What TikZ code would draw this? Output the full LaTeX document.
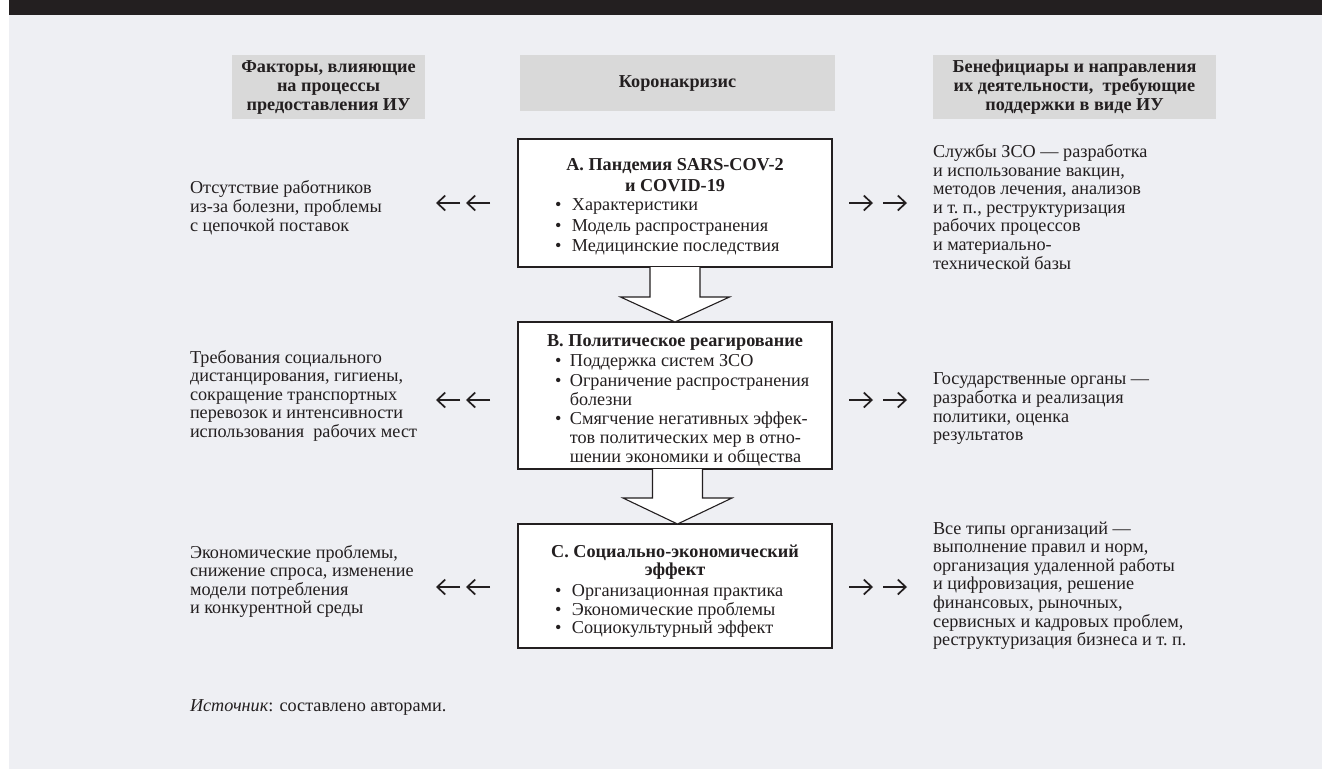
\documentclass[tikz,border=0pt]{standalone}
\usepackage{fontspec}
\setmainfont{Liberation Serif}
\usetikzlibrary{arrows.meta,calc}
\definecolor{bg}{HTML}{EEEFF3}
\definecolor{hdr}{HTML}{D9D9D9}
\definecolor{ink}{HTML}{231F20}
\begin{document}
\begin{tikzpicture}[x=1pt,y=-1pt,
  every node/.style={inner sep=0pt, outer sep=0pt, text=ink},
  body/.style={font=\fontsize{18.2}{18.6}\selectfont, align=left, anchor=north west},
  hdrbox/.style={fill=hdr, font=\bfseries\fontsize{18.2}{19}\selectfont, align=center},
  mainbox/.style={draw=ink, fill=white, line width=1.1pt, minimum width=314pt},
  btitle/.style={font=\bfseries\fontsize{18.2}{20}\selectfont, align=center, anchor=north},
  blist/.style={font=\fontsize{18.2}{18.6}\selectfont, anchor=north west},
  smallarr/.style={draw=ink, line width=1.7pt, -{Straight Barb[length=8pt,width=15pt]}},
  blockarr/.style={draw=ink, fill=white, line width=1.1pt, line join=miter}
]
\useasboundingbox (0,0) rectangle (1322,769);
\fill[white] (0,0) rectangle (1322,769);
\fill[bg] (9,0) rectangle (1322,769);
\fill[ink] (9,0) rectangle (1322,15);

% header boxes
\node[hdrbox, minimum width=193pt, minimum height=64pt] (h1) at (328.5,87)
  {Факторы, влияющие\\на процессы\\предоставления ИУ};
\node[hdrbox, minimum width=315pt, minimum height=56pt] (h2) at (677.5,83)
  {Коронакризис};
\node[hdrbox, minimum width=283pt, minimum height=64pt] (h3) at (1074.5,87)
  {Бенефициары и направления\\их деятельности,~ требующие\\поддержки в виде ИУ};

% main boxes
\node[mainbox, minimum height=128pt] (A) at (675,203) {};
\node[mainbox, minimum height=147pt] (B) at (675,395.5) {};
\node[mainbox, minimum height=124pt] (C) at (675,586) {};

% block arrows
\draw[blockarr] ($(A.south)+(-25,0)$) -- ($(A.south)+(-25,30)$) -- ($(A.south)+(-54.5,30)$)
  -- (B.north) -- ($(A.south)+(54.5,30)$) -- ($(A.south)+(25,30)$) -- ($(A.south)+(25,0)$);
\draw[blockarr] ($(B.south)+(-22.5,0)$) -- ($(B.south)+(-22.5,29)$) -- ($(B.south)+(-52,29)$)
  -- ($(C.north)+(2.5,0)$) -- ($(B.south)+(57,29)$) -- ($(B.south)+(27.5,29)$) -- ($(B.south)+(27.5,0)$);

% box texts
\node[btitle] (At) at (675,156) {\strut А. Пандемия SARS-COV-2\\[1.4pt]и COVID-19};
\node[blist] (Al) at (555,196.4) {\renewcommand\arraystretch{1.1}\begin{tabular}{@{}l@{\hspace{10.5pt}}l@{}}
\textbullet & Характеристики\\
\textbullet & Модель распространения\\
\textbullet & Медицинские последствия
\end{tabular}};

\node[btitle] (Bt) at (675,332) {\strut В. Политическое реагирование};
\node[blist] (Bl) at (555,353.7) {\begin{tabular}{@{}l@{\hspace{8.5pt}}l@{}}
\textbullet & Поддержка систем ЗСО\\[1.2pt]
\textbullet & Ограничение распространения\\
 & болезни\\[1.2pt]
\textbullet & Смягчение негативных эффек-\\
 & тов политических мер в отно-\\
 & шении экономики и общества
\end{tabular}};

\node[btitle] (Ct) at (675,543) {\strut С. Социально-экономический\\[-1.6pt]эффект};
\node[blist] (Cl) at (555,583.7) {\begin{tabular}{@{}l@{\hspace{10.5pt}}l@{}}
\textbullet & Организационная практика\\
\textbullet & Экономические проблемы\\
\textbullet & Социокультурный эффект
\end{tabular}};

% left texts
\node[body] (L1) at (190,180) {\strut Отсутствие работников\\из-за болезни, проблемы\\с цепочкой поставок};
\node[body] (L2) at (190,350) {\strut Требования социального\\дистанцирования, гигиены,\\сокращение транспортных\\перевозок и интенсивности\\использования~ рабочих мест};
\node[body] (L3) at (190,545) {\strut Экономические проблемы,\\снижение спроса, изменение\\модели потребления\\и конкурентной среды};

% right texts
\node[body] (R1) at (933,144.5) {\strut Службы ЗСО — разработка\\и использование вакцин,\\методов лечения, анализов\\и т.~п., реструктуризация\\рабочих процессов\\и материально-\\технической базы};
\node[body] (R2) at (933,371) {\strut Государственные органы —\\разработка и реализация\\политики, оценка\\результатов};
\node[body] (R3) at (933,521) {\strut Все типы организаций —\\выполнение правил и норм,\\организация удаленной работы\\и цифровизация, решение\\финансовых, рыночных,\\сервисных и кадровых проблем,\\реструктуризация бизнеса и т.~п.};

% small arrows
\coordinate (la1s) at (460,203); \coordinate (la1e) at (436,203);
\coordinate (la2s) at (490,203); \coordinate (la2e) at (466,203);
\coordinate (lb1s) at (460,400); \coordinate (lb1e) at (436,400);
\coordinate (lb2s) at (490,400); \coordinate (lb2e) at (466,400);
\coordinate (lc1s) at (460,587); \coordinate (lc1e) at (436,587);
\coordinate (lc2s) at (490,587); \coordinate (lc2e) at (466,587);
\coordinate (ra1s) at (849,203); \coordinate (ra1e) at (873,203);
\coordinate (ra2s) at (883,203); \coordinate (ra2e) at (907,203);
\coordinate (rb1s) at (849,400); \coordinate (rb1e) at (873,400);
\coordinate (rb2s) at (883,400); \coordinate (rb2e) at (907,400);
\coordinate (rc1s) at (849,587); \coordinate (rc1e) at (873,587);
\coordinate (rc2s) at (883,587); \coordinate (rc2e) at (907,587);
\foreach \p in {la1,la2,lb1,lb2,lc1,lc2,ra1,ra2,rb1,rb2,rc1,rc2}
  \draw[smallarr] (\p s) -- (\p e);

% source
\node[anchor=base west, font=\fontsize{18.2}{18.6}\selectfont] (src) at (190,711)
  {\textit{Источник}: составлено авторами.};
\end{tikzpicture}
\end{document}
